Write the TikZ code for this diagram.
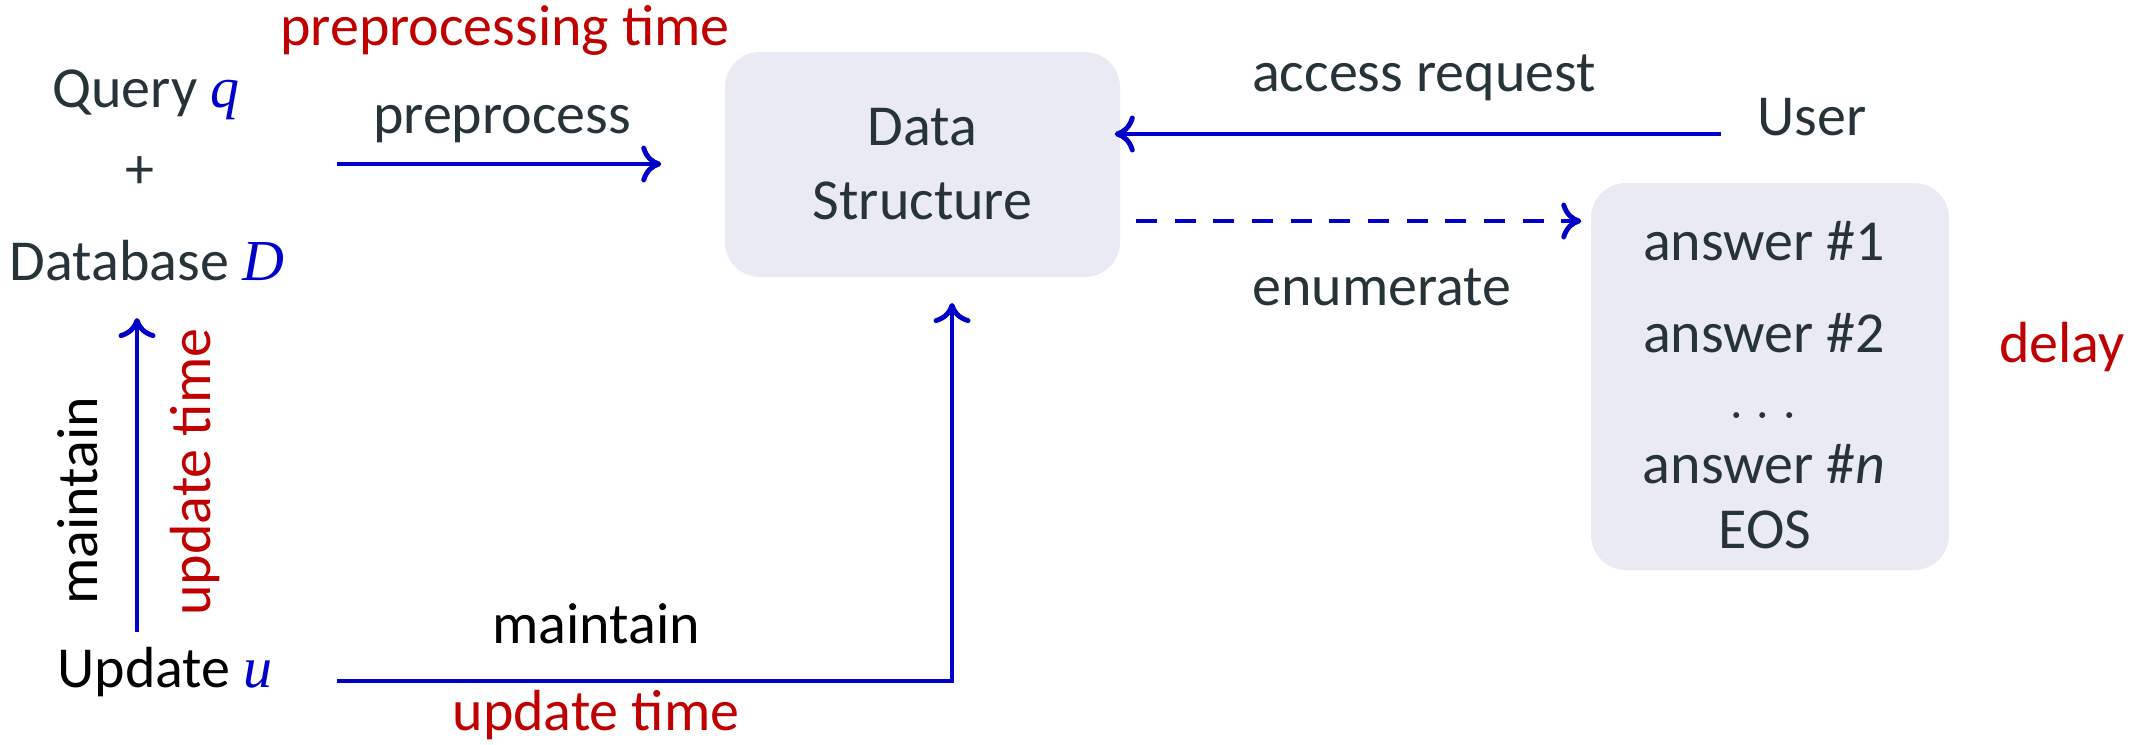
\documentclass[tikz,border=0pt]{standalone}
\usepackage{fontspec}
\setmainfont{Carlito}
\newfontfamily\varfont{Liberation Serif}
\newcommand{\qvar}[1]{\textcolor{lineblue}{\varfont\itshape #1}}
\usetikzlibrary{arrows.meta, positioning}
\definecolor{slate}{RGB}{38,52,58}
\definecolor{lineblue}{RGB}{0,0,200}
\definecolor{timered}{RGB}{192,0,0}
\definecolor{boxfill}{RGB}{234,234,244}
\tikzset{
    >={To[length=5.7pt,width=10.5pt]}, % open curved arrow heads
    every node/.style={font=\fontsize{16.5}{21}\selectfont, text=slate, inner sep=0pt},
    lbl/.style={anchor=base}, % labels sit on their baseline
    cost/.style={anchor=base, text=timered}, % the red cost labels
    plain/.style={anchor=base, text=black},
    store/.style={fill=boxfill, rounded corners=0.35cm, align=center},
    flow/.style={->, draw=lineblue, line width=1.4pt},
    lazy/.style={flow, dash pattern=on 6pt off 5pt}, % dashed enumeration
}

\begin{document}
\begin{tikzpicture}
    \useasboundingbox (0,0) rectangle (21.46,-7.44);

    % boxes
    \node[store, minimum width=3.95cm, minimum height=2.25cm] (ds) at (9.225,-1.645) {Data\\Structure};
    \node[store, minimum width=3.58cm, minimum height=3.87cm] (ans) at (17.70,-3.765) {};

    % left side
    \node[cost] (preptime) at (5.05,-0.45) {preprocessing time};
    \node[lbl] (query) at (1.46,-1.07) {Query \qvar{q}};
    \node[anchor=center] (plus) at (1.40,-1.73) {+};
    \node[lbl] (db) at (1.47,-2.80) {Database \qvar{D}};
    \node[lbl] (prep) at (5.02,-1.33) {preprocess};
    \node[plain, rotate=90] (mleft) at (0.97,-5.01) {maintain};
    \node[cost, rotate=90] (uleft) at (2.10,-4.72) {update time};
    \node[plain] (upd) at (1.65,-6.87) {Update \qvar{u}};
    \node[plain] (mbot) at (5.96,-6.43) {maintain};
    \node[cost] (ubot) at (5.96,-7.30) {update time};

    % right side
    \node[lbl] (accreq) at (14.24,-0.91) {access request};
    \node[lbl] (user) at (18.12,-1.35) {User};
    \node[lbl] (enum) at (13.82,-3.05) {enumerate};
    \node[lbl] (ans1) at (17.64,-2.60) {answer \#1};
    \node[lbl] (ans2) at (17.64,-3.52) {answer \#2};
    \node[lbl] (dots) at (17.63,-4.18) {$\ldots$};
    \node[lbl] (ansn) at (17.64,-4.83) {answer \#\textit{n}};
    \node[lbl] (eos) at (17.65,-5.48) {EOS};
    \node[cost] (delay) at (20.62,-3.62) {delay};

    % connectors
    \coordinate (pp-s) at (3.37,-1.64);
    \coordinate (acc) at (17.21,-1.34);
    \coordinate (en-s) at (11.36,-2.21);
    \coordinate (mt-s) at (3.37,-6.81);
    \coordinate (mt-e) at (9.52,-3.03);
    \coordinate (um-s) at (1.37,-6.32);
    \coordinate (um-e) at (1.37,-3.18);

    \draw[flow, shorten >=0.63cm] (pp-s) -- (pp-s -| ds.west);
    \draw[flow, shorten >=-0.06cm] (acc) -- (acc -| ds.east);
    \draw[lazy, shorten >=0.09cm] (en-s) -- (en-s -| ans.west);
    \draw[flow] (mt-s) -| (mt-e);
    \draw[flow] (um-s) -- (um-e);
\end{tikzpicture}
\end{document}
